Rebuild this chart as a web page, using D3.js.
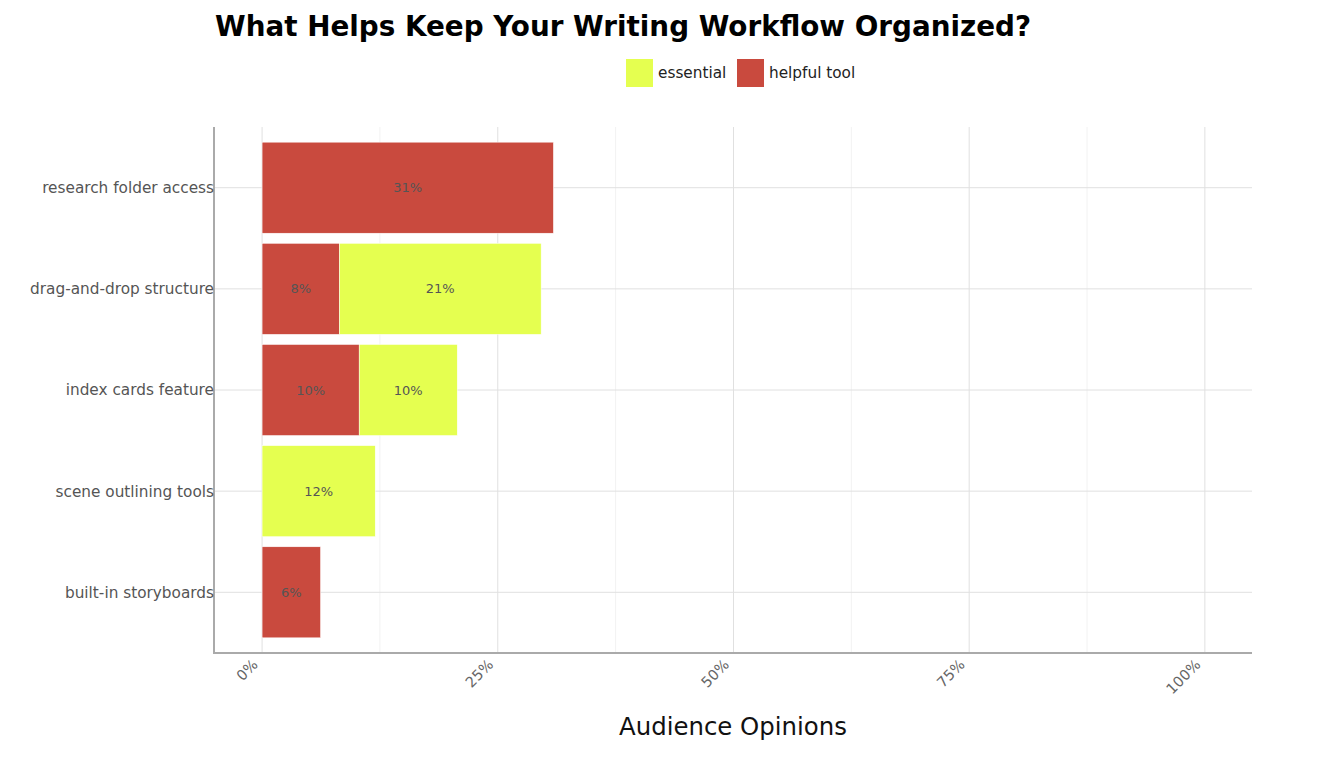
<!DOCTYPE html>
<html>
<head>
<meta charset="utf-8">
<script src="https://cdn.jsdelivr.net/npm/d3@7"></script>
<style>
  body { margin: 0; background: #fff; font-family: "DejaVu Sans", sans-serif; }
</style>
</head>
<body>
<div id="chart"></div>
<script>
// Data
const categories = [
  "research folder access",
  "drag-and-drop structure",
  "index cards feature",
  "scene outlining tools",
  "built-in storyboards",
];
const seriesNames = ["helpful tool", "essential"];
const helpfulTool = [30.9, 8.2, 10.3, 0, 6.2];
const essential = [0, 21.4, 10.4, 12.0, 0];
const xTicks = [0, 25, 50, 75, 100];
const minorTicks = [12.5, 37.5, 62.5, 87.5];

const colors = { "helpful tool": "#c94a3e", essential: "#e5ff50" };

const W = 1326, H = 762;
const margin = { top: 127, right: 74, bottom: 109, left: 214 };

const svg = d3.select("#chart").append("svg")
  .attr("width", W).attr("height", H)
  .style("font-family", "'DejaVu Sans', sans-serif");

const x = d3.scaleLinear().domain([-5.1, 105]).range([margin.left, W - margin.right]);
const y = d3.scaleBand().domain(categories)
  .range([margin.top, H - margin.bottom])
  .paddingInner(0.1).paddingOuter(0.15);

// Grid
const grid = svg.append("g");
grid.selectAll("line.minor").data(minorTicks).join("line")
  .attr("x1", (d) => x(d)).attr("x2", (d) => x(d))
  .attr("y1", margin.top).attr("y2", H - margin.bottom)
  .attr("stroke", "#f2f2f2").attr("stroke-width", 1);
grid.selectAll("line.major").data(xTicks).join("line")
  .attr("x1", (d) => x(d)).attr("x2", (d) => x(d))
  .attr("y1", margin.top).attr("y2", H - margin.bottom)
  .attr("stroke", "#e0e0e0").attr("stroke-width", 1);
grid.selectAll("line.h").data(categories).join("line")
  .attr("x1", margin.left).attr("x2", W - margin.right)
  .attr("y1", (d) => y(d) + y.bandwidth() / 2).attr("y2", (d) => y(d) + y.bandwidth() / 2)
  .attr("stroke", "#e0e0e0").attr("stroke-width", 1);

// Stacked bars
const rows = categories.map((c, i) => ({ cat: c, "helpful tool": helpfulTool[i], essential: essential[i] }));
const stack = d3.stack().keys(seriesNames)(rows);

const bars = svg.append("g");
stack.forEach((layer) => {
  layer.forEach((d) => {
    const v = d[1] - d[0];
    if (v <= 0) return;
    bars.append("rect")
      .attr("x", x(d[0]))
      .attr("y", y(d.data.cat))
      .attr("width", x(d[1]) - x(d[0]))
      .attr("height", y.bandwidth())
      .attr("fill", colors[layer.key])
      .attr("stroke", "#fff").attr("stroke-width", 0.5);
    bars.append("text")
      .attr("x", (x(d[0]) + x(d[1])) / 2)
      .attr("y", y(d.data.cat) + y.bandwidth() / 2)
      .attr("dy", "0.35em")
      .attr("text-anchor", "middle")
      .attr("fill", "#555")
      .style("font-size", "13px")
      .text(`${Math.round(v)}%`);
  });
});

// Y axis
svg.append("line")
  .attr("x1", margin.left).attr("x2", margin.left)
  .attr("y1", margin.top).attr("y2", H - margin.bottom + 1)
  .attr("stroke", "#aaa").attr("stroke-width", 2);
svg.append("g").selectAll("text").data(categories).join("text")
  .attr("x", margin.left)
  .attr("y", (d) => y(d) + y.bandwidth() / 2)
  .attr("dy", "0.35em")
  .attr("text-anchor", "end")
  .attr("fill", "#555")
  .style("font-size", "15.3px")
  .text((d) => d);

// X axis
svg.append("line")
  .attr("x1", margin.left).attr("x2", W - margin.right)
  .attr("y1", H - margin.bottom).attr("y2", H - margin.bottom)
  .attr("stroke", "#aaa").attr("stroke-width", 2);
svg.append("g").selectAll("text").data(xTicks).join("text")
  .attr("transform", (d) => `translate(${x(d) - 7},${H - margin.bottom + 9}) rotate(-45)`)
  .attr("text-anchor", "end")
  .attr("dy", "0.35em")
  .attr("fill", "#666")
  .style("font-size", "14.5px")
  .text((d) => `${d}%`);

svg.append("text")
  .attr("x", (margin.left + W - margin.right) / 2)
  .attr("y", 735)
  .attr("text-anchor", "middle")
  .attr("fill", "#111")
  .style("font-size", "24.4px")
  .text("Audience Opinions");

// Title
svg.append("text")
  .attr("x", 215).attr("y", 36)
  .attr("fill", "#000")
  .style("font-size", "27.8px").style("font-weight", "bold")
  .text("What Helps Keep Your Writing Workflow Organized?");

// Legend
const legendItems = ["essential", "helpful tool"];
const legendX = [626, 737];
const legend = svg.append("g");
legendItems.forEach((k, i) => {
  legend.append("rect")
    .attr("x", legendX[i]).attr("y", 59)
    .attr("width", 27).attr("height", 28)
    .attr("fill", colors[k]);
  legend.append("text")
    .attr("x", legendX[i] + 32).attr("y", 73)
    .attr("dy", "0.35em")
    .attr("fill", "#222")
    .style("font-size", "15.3px")
    .text(k);
});
</script>
</body>
</html>
